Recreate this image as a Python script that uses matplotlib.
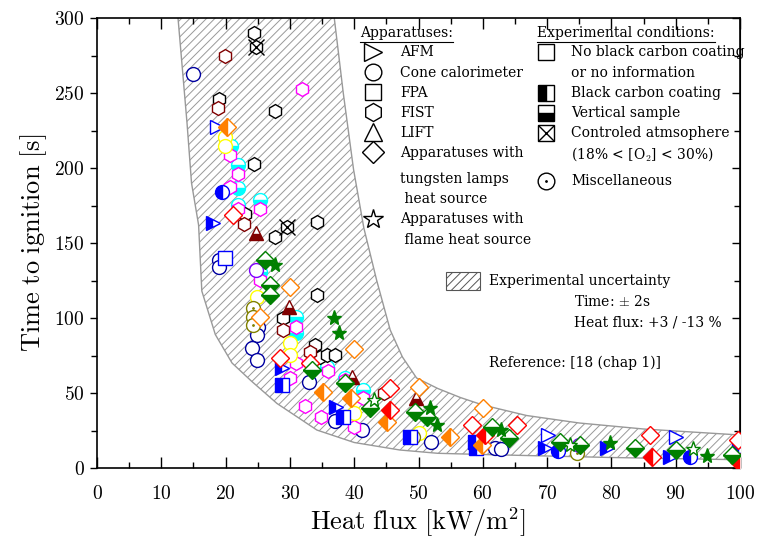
import matplotlib
matplotlib.use('Agg')
import matplotlib.pyplot as plt
from matplotlib.ticker import MultipleLocator, FuncFormatter
from matplotlib.patches import Rectangle

plt.rcParams['font.family'] = 'DejaVu Serif'
plt.rcParams['mathtext.fontset'] = 'cm'
plt.rcParams['hatch.linewidth'] = 0.7

# uncertainty band
band_up_x = [36.5, 36.9, 38.3, 39.9, 41.5, 43.5, 45.6, 47.5, 49.7, 53, 56.5, 60, 66.8, 75, 85, 100, 101]
band_up_y = [310, 300, 250, 199, 160, 125, 92, 74, 60, 53, 47, 42, 35, 30, 26, 22, 21.8]
band_lo_x = [12.4, 12.6, 14.0, 14.7, 15.8, 16.3, 18.4, 21, 24, 28, 34.2, 40, 47.1, 53, 60, 80, 100, 101]
band_lo_y = [310, 300, 230, 190, 162, 118, 89, 70, 58, 43, 25.3, 17, 12, 9.8, 9, 7, 5.5, 5.4]

# FIST (hexagons)
hex_black_x = [24.4, 19.0, 27.7, 24.4, 23.0, 34.2, 27.7, 34.2, 29.0, 33.9, 34.7, 35.7, 37.0]
hex_black_y = [290, 246, 238, 203, 169.3, 164.2, 154.2, 115.3, 99.8, 82, 74.2, 75.3, 75.3]
hex_atm_x = [24.7, 29.6]
hex_atm_y = [281, 161]
hex_darkred_x = [19.9, 18.8, 22.8, 28.9, 33.1, 44.6]
hex_darkred_y = [275, 240, 163, 92, 77.5, 49.8]
hex_magenta_x = [31.9, 20.7, 22.0, 20.7, 25.3, 22.0, 25.3, 31.0, 31.0, 30.0, 35.9, 38.6, 41.3, 32.3, 34.9, 40.0]
hex_magenta_y = [253, 208.7, 195.8, 187.5, 173, 173, 125.3, 94.2, 69.8, 59.8, 65, 58.7, 46.4, 41.3, 34.2, 27.5]

# Cone calorimeter (circles)
circ_cyan_x = [20.9, 22.0, 22.0, 25.3, 22.0, 25.3, 31.0, 31.0, 35.7, 41.4, 38.6]
circ_cyan_y = [214.7, 202, 186.5, 178.7, 175.3, 130.8, 100.9, 90, 67.5, 52, 60]
circ_navy_x = [14.9, 19.0, 19.0, 25.1, 24.9, 24.1, 24.9, 32.9, 37.0, 41.2, 52.0, 61.9, 62.9]
circ_navy_y = [262.7, 138.7, 134.2, 94.2, 88.7, 79.8, 72, 57.5, 31.6, 25.3, 17.5, 13.1, 12.4]
circ_blue_bc_x = [19.4, 71.7, 92.2]
circ_blue_bc_y = [184, 11.6, 7.6]
circ_yellow_x = [19.9, 19.9, 24.9, 30.0, 30.0, 39.9, 50.0]
circ_yellow_y = [221, 215, 113.8, 83.1, 75.3, 36.9, 23.1]
circ_olive_x = [24.2, 24.2, 24.2, 49.2, 74.6]
circ_olive_y = [106.4, 100.9, 95.3, 20.9, 9.8]
circ_purple_x = [24.8, 74.9]
circ_purple_y = [132, 15.3]

# FPA (squares)
sq_navy_x = [19.9]
sq_navy_y = [139.8]
sq_blue_bc_x = [28.7, 38.3, 48.7, 59.0, 58.8]
sq_blue_bc_y = [55.3, 34.2, 20.9, 13.1, 17.5]

# AFM (right triangles)
afm_open_x = [18.6, 70.2, 90.1]
afm_open_y = [227.5, 22, 20.4]
afm_bc_x = [18.1, 28.7, 37.2, 69.7, 79.3, 89.1, 99.8]
afm_bc_y = [163.5, 66.4, 40.9, 13.1, 13.1, 7.6, 12]

# LIFT (triangles)
lift_x = [24.8, 29.8, 39.7, 49.6]
lift_y = [156.4, 107.5, 60.9, 46.4]

# tungsten lamps (diamonds)
dia_orange_x = [30.0, 25.3, 39.9, 50.0, 60.1]
dia_orange_y = [120.4, 101, 79.1, 54.2, 39.8]
dia_orange_bc_x = [20.2, 35.1, 39.5, 45.1, 54.9, 59.8]
dia_orange_bc_y = [227.5, 50.9, 46.4, 30.9, 20.9, 15.3]
dia_red_x = [21.2, 28.5, 33.1, 45.6, 58.3, 65.3, 86.0, 99.7]
dia_red_y = [168.7, 73.1, 69.8, 53.1, 28.7, 28.7, 22, 18.7]
dia_red_bc_x = [45.6, 60.3, 86.3, 99.8]
dia_red_bc_y = [38.7, 22, 7.6, 4]
dia_green_x = [26.1, 26.9, 26.9, 33.4, 38.6, 42.5, 49.5, 51.3, 61.4, 64.0, 72.0, 75.1, 83.7, 90.1, 98.7]
dia_green_y = [139, 122, 115.3, 65.3, 56.5, 39.8, 37.5, 34.2, 27.5, 19.8, 17.5, 15.3, 13.1, 12, 8.7]

# flame heat source (stars)
star_fill_x = [27.7, 36.8, 37.7, 51.8, 52.8, 62.9, 79.8, 94.8]
star_fill_y = [135.3, 99.8, 89.8, 39.8, 28.7, 25.3, 16.9, 8]
star_open_x = [43.1, 73.6, 92.7]
star_open_y = [45.3, 15.3, 12.4]

fig = plt.figure(figsize=(7.6, 5.39), dpi=100)
ax = fig.add_axes([97 / 760, 1 - 468 / 539, 643 / 760, 450 / 539])

# hatched band
ax.fill(band_up_x + band_lo_x[::-1], band_up_y + band_lo_y[::-1],
        facecolor='none', edgecolor='#999999', hatch='////', lw=1.0, zorder=1)

MS = 10
MEW = 1.0


def pts(x, y, marker, color, fill='none', ms=MS):
    if fill == 'none':
        ax.plot(x, y, ls='none', marker=marker, ms=ms, mec=color, mfc='white',
                mew=MEW, zorder=3)
    elif fill == 'full':
        ax.plot(x, y, ls='none', marker=marker, ms=ms, mec=color, mfc=color,
                mew=MEW, zorder=3)
    else:
        ax.plot(x, y, ls='none', marker=marker, ms=ms, mec=color, mfc=color,
                markerfacecoloralt='white', fillstyle=fill, mew=MEW, zorder=3)


pts(circ_navy_x, circ_navy_y, 'o', '#0000a0')
pts(sq_navy_x, sq_navy_y, 's', '#0000ff')
pts(circ_cyan_x, circ_cyan_y, 'o', '#00ffff', 'bottom')
pts(hex_black_x, hex_black_y, 'h', 'black')
pts(hex_atm_x, hex_atm_y, 'h', 'black')
ax.plot(hex_atm_x, hex_atm_y, ls='none', marker='x', ms=11, mec='black', mew=1, zorder=3)
pts(hex_darkred_x, hex_darkred_y, 'h', '#800000')
pts(hex_magenta_x, hex_magenta_y, 'h', '#ff00ff')
pts(circ_blue_bc_x, circ_blue_bc_y, 'o', '#0000ff', 'left')
pts(circ_yellow_x, circ_yellow_y, 'o', '#ffff00')
pts(circ_olive_x, circ_olive_y, 'o', '#808000')
ax.plot(circ_olive_x, circ_olive_y, ls='none', marker='.', ms=2, color='#808000', zorder=3)
pts(circ_purple_x, circ_purple_y, 'o', '#8000ff')
pts(sq_blue_bc_x, sq_blue_bc_y, 's', '#0000ff', 'left')
pts(afm_open_x, afm_open_y, '>', '#0000ff')
pts(afm_bc_x, afm_bc_y, '>', '#0000ff', 'left')
pts(lift_x, lift_y, '^', '#800000', 'bottom')
pts(dia_orange_x, dia_orange_y, 'D', '#ff8000', ms=9.5)
pts(dia_orange_bc_x, dia_orange_bc_y, 'D', '#ff8000', 'left', ms=9.5)
pts(dia_red_x, dia_red_y, 'D', '#ff0000', ms=9.5)
pts(dia_red_bc_x, dia_red_bc_y, 'D', '#ff0000', 'left', ms=9.5)
pts(dia_green_x, dia_green_y, 'D', '#008000', 'bottom', ms=9.5)
pts(star_fill_x, star_fill_y, '*', '#008000', 'full', ms=11)
pts(star_open_x, star_open_y, '*', '#008000', ms=11)

ax.set_xlim(0, 100)
ax.set_ylim(0, 300)
ax.xaxis.set_major_locator(MultipleLocator(10))
ax.xaxis.set_minor_locator(MultipleLocator(5))
ax.yaxis.set_major_locator(MultipleLocator(50))
ax.yaxis.set_minor_locator(MultipleLocator(25))
fmt = FuncFormatter(lambda v, p: '$%d$' % v)
ax.xaxis.set_major_formatter(fmt)
ax.yaxis.set_major_formatter(fmt)
ax.tick_params(axis='x', which='both', direction='in', top=True, labelsize=14, pad=12)
ax.tick_params(axis='x', which='major', length=8, width=1)
ax.tick_params(axis='x', which='minor', length=4, width=1)
ax.tick_params(axis='y', which='both', direction='out', labelsize=14, pad=4)
ax.tick_params(axis='y', which='major', length=5, width=1)
ax.tick_params(axis='y', which='minor', length=4, width=1)
sec = ax.secondary_yaxis('right')
sec.yaxis.set_major_locator(MultipleLocator(50))
sec.yaxis.set_minor_locator(MultipleLocator(25))
sec.tick_params(which='both', direction='in', labelright=False)
sec.tick_params(which='major', length=6, width=1)
sec.tick_params(which='minor', length=4, width=1)
for s in ax.spines.values():
    s.set_linewidth(1.2)

ax.set_xlabel(r'$\mathrm{Heat\ flux\ [kW/m^2]}$', fontsize=19, labelpad=2)
ax.set_ylabel(r'$\mathrm{Time\ to\ ignition\ [s]}$', fontsize=19, labelpad=4)


# legend, built by hand in axes pixels
def fx(px):
    return (px - 97) / 643


def fy(py):
    return (468 - py) / 450


T = ax.transAxes
FS = 10
heads = []
heads.append(ax.text(fx(360), fy(33), 'Apparatuses:', transform=T, fontsize=FS, va='center'))
heads.append(ax.text(fx(537), fy(33), 'Experimental conditions:', transform=T, fontsize=FS, va='center'))

app_markers = ['>', 'o', 's', 'h', '^', 'D', '*']
app_my = [52, 72, 92, 112, 132, 152, 219]
app_ms = [13, 12, 11, 13, 13, 11, 15]
for m, py, s in zip(app_markers, app_my, app_ms):
    ax.plot(fx(373), fy(py), marker=m, ms=s, mec='black', mfc='white', mew=1, transform=T, clip_on=False)
app_labels = ['AFM', 'Cone calorimeter', 'FPA', 'FIST', 'LIFT', 'Apparatuses with',
              'tungsten lamps', ' heat source', 'Apparatuses with', ' flame heat source']
app_ly = [52, 73, 93, 113, 133, 153, 179, 199, 219, 240]
for t, py in zip(app_labels, app_ly):
    ax.text(fx(400), fy(py), t, transform=T, fontsize=FS, va='center')

cond_x = fx(546)
ax.plot(cond_x, fy(52), marker='s', ms=11, mec='black', mfc='white', mew=1, transform=T)
ax.plot(cond_x, fy(93), marker='s', ms=11, mec='black', mfc='black', markerfacecoloralt='white',
        fillstyle='left', mew=1, transform=T)
ax.plot(cond_x, fy(113), marker='s', ms=11, mec='black', mfc='black', markerfacecoloralt='white',
        fillstyle='bottom', mew=1, transform=T)
ax.plot(cond_x, fy(133), marker='s', ms=11, mec='black', mfc='white', mew=1, transform=T)
ax.plot(cond_x, fy(133), marker='x', ms=11, mec='black', mew=1, transform=T)
ax.plot(cond_x, fy(181), marker='o', ms=12, mec='black', mfc='white', mew=1, transform=T)
ax.plot(cond_x, fy(181), marker='.', ms=2, color='black', transform=T)
cond_labels = ['No black carbon coating', 'or no information', 'Black carbon coating',
               'Vertical sample', 'Controled atmsophere', r'(18% < [O$_2$] < 30%)', 'Miscellaneous']
cond_ly = [52, 73, 93, 113, 133, 154, 181]
for t, py in zip(cond_labels, cond_ly):
    ax.text(fx(571), fy(py), t, transform=T, fontsize=FS, va='center')

ax.add_patch(Rectangle((fx(446), fy(290)), fx(480) - fx(446), fy(272) - fy(290), transform=T,
                       facecolor='white', edgecolor='#555555', hatch='////', lw=0.8))
ax.text(fx(489), fy(281), 'Experimental uncertainty', transform=T, fontsize=FS, va='center')
ax.text(fx(574), fy(302), r'Time: $\pm$ 2s', transform=T, fontsize=FS, va='center')
ax.text(fx(574), fy(322), 'Heat flux: +3 / -13 %', transform=T, fontsize=FS, va='center')
ax.text(fx(489), fy(363), 'Reference: [18 (chap 1)]', transform=T, fontsize=FS, va='center')

# underline the headings
r = fig.canvas.get_renderer()
inv = ax.transAxes.inverted()
for h in heads:
    bb = h.get_window_extent(renderer=r)
    (x0, y0), (x1, y1) = inv.transform([[bb.x0, bb.y0], [bb.x1, bb.y0]])
    ax.plot([x0, x1], [y0 - 0.004, y1 - 0.004], color='black', lw=0.8, transform=T)

fig.savefig('out.png', dpi=100)
